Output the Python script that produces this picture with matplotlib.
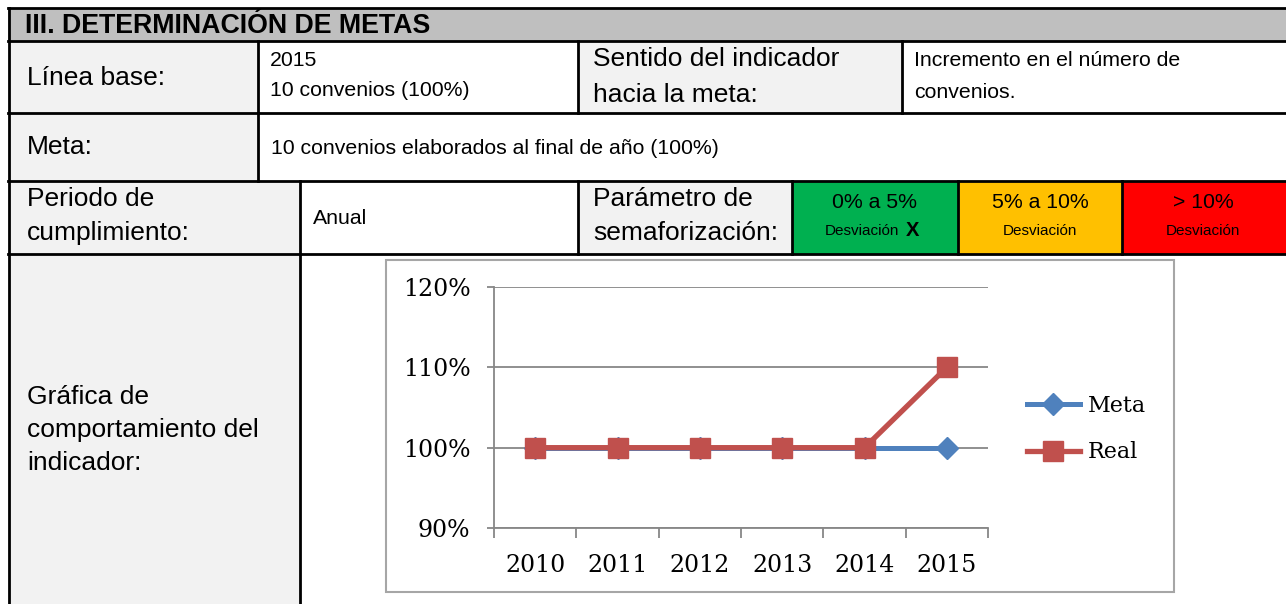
import numpy as np
import matplotlib
matplotlib.use("Agg")
import matplotlib.pyplot as plt
from matplotlib.patches import Rectangle
from matplotlib.ticker import FuncFormatter, FixedLocator

# chart data
years = ['2010', '2011', '2012', '2013', '2014', '2015']
meta = [1.00, 1.00, 1.00, 1.00, 1.00, 1.00]
real = [1.00, 1.00, 1.00, 1.00, 1.00, 1.10]
yticks = [0.9, 1.0, 1.1, 1.2]

# table text
header = 'III. DETERMINACIÓN DE METAS'
linea_base = ['2015', '10 convenios (100%)']
sentido = ['Incremento en el número de', 'convenios.']
meta_txt = '10 convenios elaborados al final de año (100%)'
periodo = 'Anual'
semaforo = [('0% a 5%', '#00b050'), ('5% a 10%', '#ffc000'), ('> 10%', '#ff0000')]

W, H = 1286, 604
fig = plt.figure(figsize=(W / 100, H / 100), dpi=100)
bg = fig.add_axes([0, 0, 1, 1])
bg.set_xlim(0, W)
bg.set_ylim(H, 0)
bg.axis('off')

SANS = 'Liberation Sans'
LBL = 19
VAL = 15.3
GRAY = '#f2f2f2'
RIGHT = 1300


def cell(x0, y0, x1, y1, fc):
    bg.add_patch(Rectangle((x0, y0), x1 - x0, y1 - y0, facecolor=fc,
                           edgecolor='none', zorder=1))


def lbl(x, y, s, size=LBL, **kw):
    bg.text(x, y, s, fontsize=size, family=SANS, va='center', zorder=5, **kw)


rows = [8, 41, 113, 181, 254, 620]

# fills
cell(8, 8, RIGHT, 41, '#bfbfbf')
cell(8, 41, 258, 113, GRAY)
cell(578, 41, 902, 113, GRAY)
cell(8, 113, 258, 181, GRAY)
cell(8, 181, 300, 254, GRAY)
cell(578, 181, 792, 254, GRAY)
cx = [792, 958, 1122, RIGHT]
for i, (t, c) in enumerate(semaforo):
    cell(cx[i], 181, cx[i + 1], 254, c)
cell(8, 254, 300, 620, GRAY)

# borders
lw = 2.0
for y in rows[:-1]:
    bg.plot([8, RIGHT], [y, y], color='black', lw=lw, zorder=3)
bg.plot([9, 9], [8, 620], color='black', lw=lw, zorder=3)
for x in [258, 578, 902]:
    bg.plot([x, x], [41, 113], color='black', lw=lw, zorder=3)
bg.plot([258, 258], [113, 181], color='black', lw=lw, zorder=3)
for x in [300, 578, 792, 958, 1122]:
    bg.plot([x, x], [181, 254], color='black', lw=lw, zorder=3)
bg.plot([300, 300], [254, 620], color='black', lw=lw, zorder=3)

# texts
lbl(25, 26, header, size=19.3, fontweight='bold')
lbl(27, 78, 'Línea base:')
lbl(270, 60, linea_base[0], size=VAL)
lbl(270, 91, linea_base[1], size=VAL)
lbl(593, 59, 'Sentido del indicador')
lbl(593, 95, 'hacia la meta:')
lbl(914, 61, sentido[0], size=VAL)
lbl(914, 92, sentido[1], size=VAL)
lbl(27, 147, 'Meta:')
lbl(271, 148, meta_txt, size=VAL)
lbl(27, 199, 'Periodo de')
lbl(27, 233, 'cumplimiento:')
lbl(313, 219, periodo, size=VAL)
lbl(593, 199, 'Parámetro de')
lbl(593, 233, 'semaforización:')
centers = [875, 1040, 1203]
for i, (t, c) in enumerate(semaforo):
    lbl(centers[i], 203, t, size=VAL, ha='center')
lbl(862, 231, 'Desviación', size=11, ha='center')
lbl(1040, 231, 'Desviación', size=11, ha='center')
lbl(1203, 231, 'Desviación', size=11, ha='center')
lbl(913, 230, 'X', size=14.5, ha='center', fontweight='bold')
lbl(27, 397, 'Gráfica de')
lbl(27, 430, 'comportamiento del')
lbl(27, 463, 'indicador:')

# chart frame
bg.add_patch(Rectangle((386, 260), 1174 - 386, 592 - 260, facecolor='white',
                       edgecolor='#a6a6a6', lw=1.5, zorder=2))

# chart
L, R, T, B = 494, 988, 287, 528
ax = fig.add_axes([L / W, 1 - B / H, (R - L) / W, (B - T) / H])
ax.set_zorder(4)
ax.patch.set_alpha(0)
x = np.arange(len(years))
ax.plot(x, meta, color='#4f81bd', lw=3.6, marker='D', markersize=11,
        label='Meta', zorder=3)
ax.plot(x, real, color='#c0504d', lw=3.8, marker='s', markersize=14,
        label='Real', zorder=4)
ax.set_xlim(-0.5, len(years) - 0.5)
ax.set_ylim(0.9, 1.2)
ax.yaxis.set_major_locator(FixedLocator(yticks))
ax.yaxis.set_major_formatter(FuncFormatter(lambda v, p: f'{v * 100:.0f}%'))
ax.set_xticks(np.arange(-0.5, len(years)), minor=False)
ax.set_xticklabels([])
ax.set_xticks(x, minor=True)
ax.set_xticklabels(years, minor=True)
ax.grid(axis='y', color='#878787', lw=1.3)
ax.set_axisbelow(True)
for s in ['top', 'right']:
    ax.spines[s].set_visible(False)
for s in ['left', 'bottom']:
    ax.spines[s].set_color('#878787')
    ax.spines[s].set_linewidth(1.3)
ax.tick_params(axis='y', which='major', length=5, width=1.3, color='#878787',
               labelsize=17, pad=12)
ax.tick_params(axis='x', which='major', length=7, width=1.3, color='#878787')
ax.tick_params(axis='x', which='minor', length=0, labelsize=17, pad=19)
for t in ax.get_xticklabels(minor=True) + ax.get_yticklabels():
    t.set_family('DejaVu Serif')

leg = ax.legend(loc='center left', bbox_to_anchor=(1.078, 0.41), frameon=False,
                prop={'family': 'DejaVu Serif', 'size': 16}, handlelength=2.4,
                handletextpad=0.35, labelspacing=1.1, borderpad=0,
                borderaxespad=0)

fig.savefig('out.png', dpi=100)
